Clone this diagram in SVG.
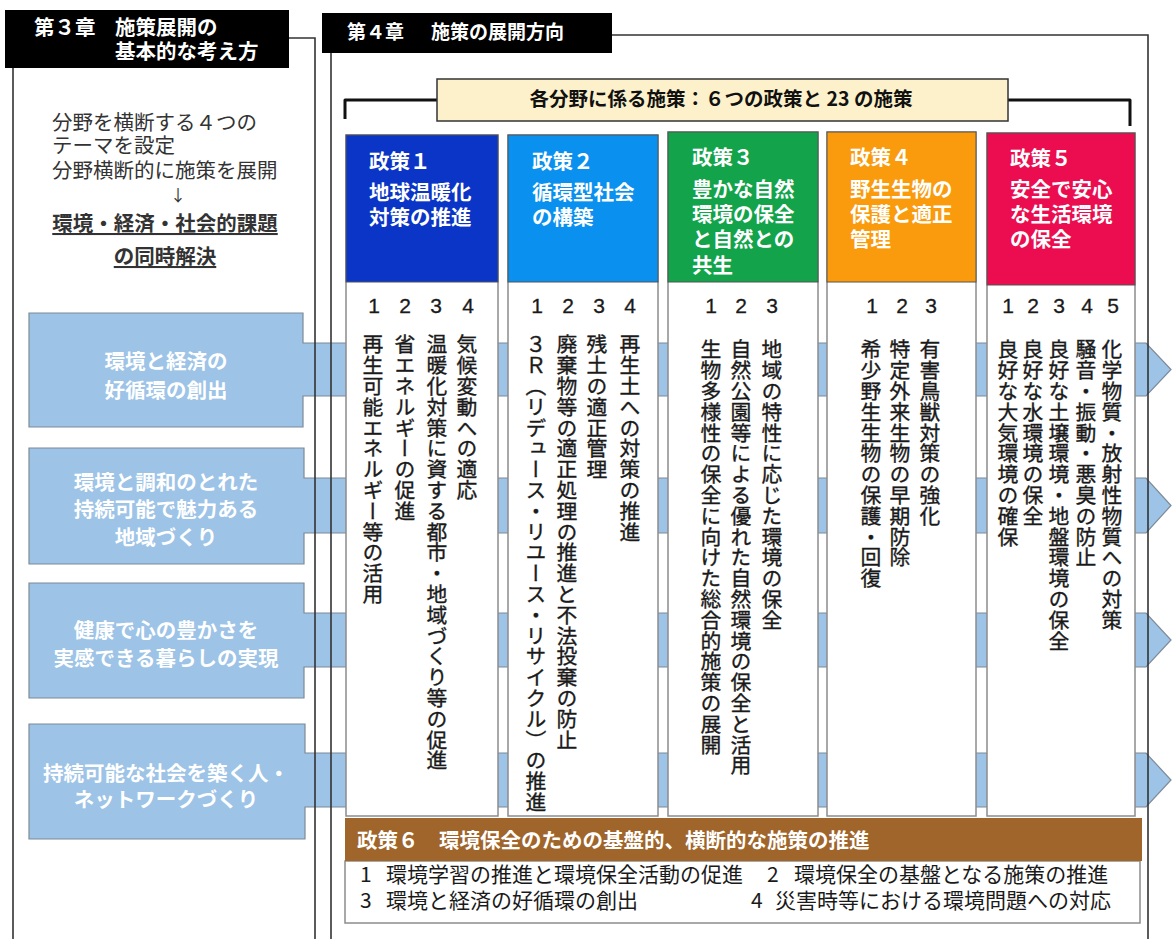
<svg xmlns="http://www.w3.org/2000/svg" width="1172" height="939" viewBox="0 0 1172 939">
<style>
text { font-family: "Noto Sans CJK JP", "Noto Sans", sans-serif; }
.wb { fill: #ffffff; font-weight: 700; }
.h20 { font-size: 20.5px; }
.lt { fill: #333333; font-size: 20.5px; }
.v { writing-mode: vertical-rl; font-size: 20.8px; fill: #1a1a1a; stroke: #1a1a1a; stroke-width: 0.35px; }
.num { font-family: "Liberation Sans", Arial, sans-serif; font-size: 21px; fill: #1a1a1a; text-anchor: middle; stroke: #1a1a1a; stroke-width: 0.3px; }
.col { fill: #ffffff; stroke: #8c8c8c; stroke-width: 1.5; }
.theme { fill: #9dc3e6; stroke: #7d8a97; stroke-width: 1.2; }
.ttx { fill: #ffffff; font-weight: 700; font-size: 20.5px; text-anchor: middle; }
.ln { stroke: #333333; stroke-width: 1.6; fill: none; }
.br { stroke: #111111; stroke-width: 3; fill: none; stroke-linejoin: round; }
.bt { fill: #1a1a1a; font-size: 21px; }
</style>

<!-- theme bands (drawn beneath everything) -->
<g id="theme1">
  <path class="theme" d="M29,313 H303 V343 H1146 L1171,369.5 L1146,396 H303 V427 H29 Z"/>
  <text class="ttx" x="166" y="369">環境と経済の</text>
  <text class="ttx" x="166" y="398">好循環の創出</text>
</g>
<g id="theme2">
  <path class="theme" d="M29,448 H304 V478 H1146 L1171,505.5 L1146,533 H304 V564 H29 Z"/>
  <text class="ttx" x="166" y="490">環境と調和のとれた</text>
  <text class="ttx" x="166" y="517">持続可能で魅力ある</text>
  <text class="ttx" x="166" y="545">地域づくり</text>
</g>
<g id="theme3">
  <path class="theme" d="M29,583 H304 V613 H1146 L1171,640 L1146,667 H304 V698 H29 Z"/>
  <text class="ttx" x="166" y="638">健康で心の豊かさを</text>
  <text class="ttx" x="166" y="666">実感できる暮らしの実現</text>
</g>
<g id="theme4">
  <path class="theme" d="M29,724 H305 V753 H1146 L1171,780 L1146,807 H305 V839 H29 Z"/>
  <text class="ttx" x="166" y="781">持続可能な社会を築く人・</text>
  <text class="ttx" x="166" y="807">ネットワークづくり</text>
</g>

<!-- frame lines and connectors -->
<g id="connectors">
  <path class="ln" d="M13,68 V939"/>
  <path class="ln" d="M289,38 H315 V939"/>
  <path class="ln" d="M331,53 V939"/>
  <path class="ln" d="M612,35 H1148 V939"/>
  <path class="br" d="M345,119 V100 H437"/>
  <path class="br" d="M1008,100 H1130 V126"/>
</g>

<!-- chapter 3 -->
<g id="ch3-header">
  <rect x="5" y="10" width="284" height="58" fill="#000000"/>
  <text class="wb h20" x="34" y="35">第３章</text>
  <text class="wb h20" x="115" y="35">施策展開の</text>
  <text class="wb h20" x="115" y="59">基本的な考え方</text>
</g>
<g id="ch3-text">
  <text class="lt" x="52" y="130">分野を横断する４つの</text>
  <text class="lt" x="52" y="153">テーマを設定</text>
  <text class="lt" x="52" y="178">分野横断的に施策を展開</text>
  <text class="lt" x="178" y="201" text-anchor="middle" style="font-size:16px">↓</text>
  <text class="lt" x="165" y="231" text-anchor="middle" font-weight="700" text-decoration="underline">環境・経済・社会的課題</text>
  <text class="lt" x="165" y="264" text-anchor="middle" font-weight="700" text-decoration="underline">の同時解決</text>
</g>

<!-- chapter 4 -->
<g id="ch4-header">
  <rect x="322" y="13" width="290" height="40" fill="#000000"/>
  <text class="wb" x="347" y="39" style="font-size:19px">第４章</text>
  <text class="wb" x="431" y="39" style="font-size:19px">施策の展開方向</text>
</g>
<g id="summary">
  <rect x="437" y="79" width="571" height="42" fill="#fdf1cb" stroke="#333333" stroke-width="1.5"/>
  <text x="721" y="106" text-anchor="middle" font-weight="700" font-size="19.5" fill="#111111">各分野に係る施策：６つの政策と 23 の施策</text>
</g>

<!-- policy 1 -->
<g id="policy1">
  <rect class="col" x="346" y="135" width="152" height="681"/>
  <rect x="346" y="135" width="152" height="147" fill="#0b35c6" stroke="#555555" stroke-width="1"/>
  <text class="wb h20" x="369" y="169">政策１</text>
  <text class="wb h20" x="369" y="200">地球温暖化</text>
  <text class="wb h20" x="369" y="225">対策の推進</text>
  <text class="num" x="374" y="313">1</text>
  <text class="num" x="405" y="313">2</text>
  <text class="num" x="436" y="313">3</text>
  <text class="num" x="468" y="313">4</text>
  <text class="v" x="373" y="334">再生可能エネルギー等の活用</text>
  <text class="v" x="405" y="334">省エネルギーの促進</text>
  <text class="v" x="437" y="334">温暖化対策に資する都市・地域づくり等の促進</text>
  <text class="v" x="467" y="334">気候変動への適応</text>
</g>

<!-- policy 2 -->
<g id="policy2">
  <rect class="col" x="508" y="135" width="150" height="681"/>
  <rect x="508" y="135" width="150" height="147" fill="#0a90ee" stroke="#555555" stroke-width="1"/>
  <text class="wb h20" x="532" y="169">政策２</text>
  <text class="wb h20" x="532" y="200">循環型社会</text>
  <text class="wb h20" x="532" y="225">の構築</text>
  <text class="num" x="537" y="313">1</text>
  <text class="num" x="568" y="313">2</text>
  <text class="num" x="599" y="313">3</text>
  <text class="num" x="630" y="313">4</text>
  <text class="v" x="536" y="334">３Ｒ（リデュース・リユース・リサイクル）の推進</text>
  <text class="v" x="567" y="334">廃棄物等の適正処理の推進と不法投棄の防止</text>
  <text class="v" x="597" y="334">残土の適正管理</text>
  <text class="v" x="630" y="334">再生土への対策の推進</text>
</g>

<!-- policy 3 -->
<g id="policy3">
  <rect class="col" x="668" y="132" width="150" height="684"/>
  <rect x="668" y="132" width="150" height="150" fill="#12a34b" stroke="#555555" stroke-width="1"/>
  <text class="wb h20" x="692" y="165">政策３</text>
  <text class="wb h20" x="692" y="197">豊かな自然</text>
  <text class="wb h20" x="692" y="222">環境の保全</text>
  <text class="wb h20" x="692" y="247">と自然との</text>
  <text class="wb h20" x="692" y="273">共生</text>
  <text class="num" x="711" y="313">1</text>
  <text class="num" x="741" y="313">2</text>
  <text class="num" x="772" y="313">3</text>
  <text class="v" x="711" y="339">生物多様性の保全に向けた総合的施策の展開</text>
  <text class="v" x="741" y="339">自然公園等による優れた自然環境の保全と活用</text>
  <text class="v" x="772" y="339">地域の特性に応じた環境の保全</text>
</g>

<!-- policy 4 -->
<g id="policy4">
  <rect class="col" x="827" y="132" width="149" height="684"/>
  <rect x="827" y="132" width="149" height="150" fill="#f99b0c" stroke="#555555" stroke-width="1"/>
  <text class="wb h20" x="850" y="165">政策４</text>
  <text class="wb h20" x="850" y="197">野生生物の</text>
  <text class="wb h20" x="850" y="222">保護と適正</text>
  <text class="wb h20" x="850" y="247">管理</text>
  <text class="num" x="872" y="313">1</text>
  <text class="num" x="902" y="313">2</text>
  <text class="num" x="931" y="313">3</text>
  <text class="v" x="871" y="339">希少野生生物の保護・回復</text>
  <text class="v" x="900" y="339">特定外来生物の早期防除</text>
  <text class="v" x="930" y="339">有害鳥獣対策の強化</text>
</g>

<!-- policy 5 -->
<g id="policy5">
  <rect class="col" x="987" y="133" width="148" height="683"/>
  <rect x="987" y="133" width="148" height="152" fill="#eb0d4f" stroke="#555555" stroke-width="1"/>
  <text class="wb h20" x="1010" y="166">政策５</text>
  <text class="wb h20" x="1010" y="197">安全で安心</text>
  <text class="wb h20" x="1010" y="222">な生活環境</text>
  <text class="wb h20" x="1010" y="247">の保全</text>
  <text class="num" x="1008" y="313">1</text>
  <text class="num" x="1033" y="313">2</text>
  <text class="num" x="1059" y="313">3</text>
  <text class="num" x="1087" y="313">4</text>
  <text class="num" x="1113" y="313">5</text>
  <text class="v" x="1008" y="339">良好な大気環境の確保</text>
  <text class="v" x="1033" y="339">良好な水環境の保全</text>
  <text class="v" x="1059" y="339">良好な土壌環境・地盤環境の保全</text>
  <text class="v" x="1086" y="339">騒音・振動・悪臭の防止</text>
  <text class="v" x="1112" y="339">化学物質・放射性物質への対策</text>
</g>

<!-- policy 6 -->
<g id="policy6">
  <rect x="345" y="861" width="795" height="62" fill="#ffffff" stroke="#8c8c8c" stroke-width="1.5"/>
  <rect x="345" y="818" width="797" height="43" fill="#a0652a"/>
  <text class="wb h20" x="357" y="848">政策６　環境保全のための基盤的、横断的な施策の推進</text>
  <text class="bt" x="360" y="882">1</text>
  <text class="bt" x="386" y="882">環境学習の推進と環境保全活動の促進</text>
  <text class="bt" x="767" y="882">2</text>
  <text class="bt" x="794" y="882">環境保全の基盤となる施策の推進</text>
  <text class="bt" x="360" y="908">3</text>
  <text class="bt" x="386" y="908">環境と経済の好循環の創出</text>
  <text class="bt" x="751" y="908">4</text>
  <text class="bt" x="775" y="908">災害時等における環境問題への対応</text>
</g>
</svg>
